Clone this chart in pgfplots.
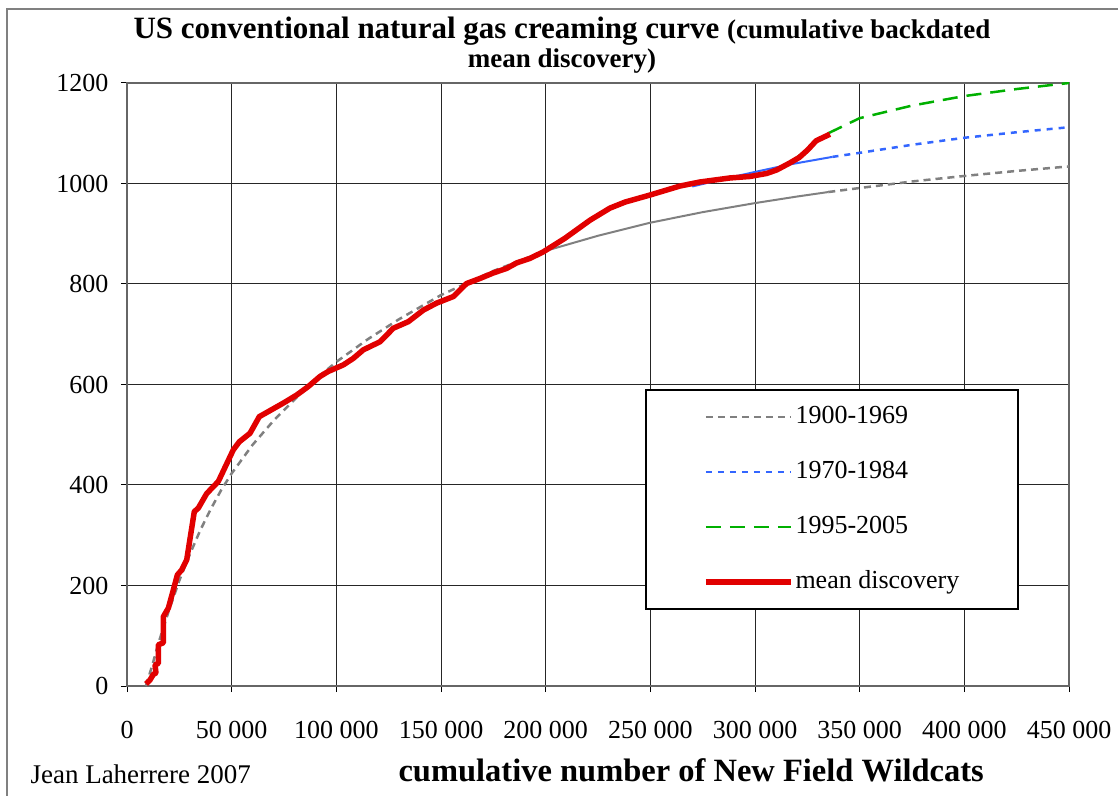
\documentclass[border=0pt]{standalone}
\usepackage{fontspec}
\setmainfont{Liberation Serif}
\usepackage{pgfplots}
\pgfplotsset{compat=1.18}
\definecolor{gcurve}{RGB}{128,128,128}
\definecolor{bcurve}{RGB}{51,102,255}
\definecolor{grcurve}{RGB}{0,176,0}
\definecolor{rcurve}{RGB}{225,0,0}
\begin{document}
\begin{tikzpicture}[x=1pt,y=1pt]
\useasboundingbox (0,0) rectangle (1118,795);
\draw[black!50, line width=2pt] (7,-10) -- (7,786) -- (1130,786);
\begin{axis}[
  at={(127pt,109pt)}, anchor=south west,
  width=942pt, height=603pt, scale only axis,
  xmin=0, xmax=450000, ymin=0, ymax=1200,
  xtick={0,50000,100000,150000,200000,250000,300000,350000,400000,450000},
  xticklabels={0,50 000,100 000,150 000,200 000,250 000,300 000,350 000,400 000,450 000},
  ytick={0,200,400,600,800,1000,1200},
  yticklabels={0,200,400,600,800,1000,1200},
  scaled x ticks=false,
  grid=major, major grid style={black!85, line width=1pt},
  axis line style={black!60, line width=1.5pt},
  tick align=outside, major tick length=6pt, tick style={black, line width=1pt},
  xtick pos=bottom, ytick pos=left,
  ticklabel style={font=\fontsize{26}{28}\selectfont},
  xticklabel style={yshift=-26pt},
  yticklabel style={xshift=-9pt},
  legend style={at={(0.5499,0.4925)}, anchor=north west, draw=black, line width=2pt, fill=white,
    inner xsep=57pt, inner ysep=13pt, row sep=27pt, column sep=0pt,
    font=\fontsize{26}{28}\selectfont,
    nodes={text height=18pt, text depth=6pt, inner sep=2pt}},
  legend cell align=left,
  legend image code/.code={\draw[#1] (0pt,0pt) -- (85pt,0pt);},
]
% 1900-1969 fit
\addplot[gcurve, line width=2.5pt, dash pattern=on 7pt off 5pt] coordinates {
(9000,0) (12000,40) (15000,85) (20000,150) (25000,210) (30000,262) (35000,310)
(40000,352) (45000,390) (50000,423) (60000,480) (70000,528) (80000,570) (90000,610)
(100000,645) (115000,690) (130000,730) (150000,778) (175000,826) (200000,866)};
\addlegendentry{1900-1969}
% 1970-1984 fit
\addplot[bcurve, line width=2.5pt, dash pattern=on 6pt off 6pt] coordinates {
(337000,1053) (350000,1061) (375000,1077) (400000,1091) (425000,1102) (450000,1112)};
\addlegendentry{1970-1984}
% 1995-2005 fit
\addplot[grcurve, line width=2.5pt, dash pattern=on 15pt off 9pt] coordinates {
(335000,1100) (350000,1130) (375000,1155) (400000,1174) (425000,1188) (450000,1200)};
\addlegendentry{1995-2005}
% solid parts of fits
\addplot[gcurve, line width=2pt, forget plot] coordinates {
(200000,866) (225000,896) (250000,922) (275000,943) (300000,961) (320000,974) (335000,983)};
\addplot[gcurve, line width=2.5pt, dash pattern=on 7pt off 5pt, forget plot] coordinates {
(335000,983) (350000,991) (375000,1004) (400000,1015) (425000,1025) (450000,1034)};
\addplot[bcurve, line width=2pt, forget plot] coordinates {
(270000,994) (285000,1009) (300000,1023) (316700,1038) (337000,1053)};
\addplot[grcurve, line width=2pt, forget plot] coordinates {
(318000,1046) (325000,1068) (330000,1085) (335000,1100)};
% mean discovery
\addplot[rcurve, line width=5.5pt, line join=round] coordinates {
(9077,4) (10990,12) (12560,23) (13850,26) (13380,42) (14970,45) (14970,82)
(17360,86) (17360,138) (19750,155) (22120,191) (24060,221) (26130,231) (28520,251)
(32150,347) (34060,354) (38070,383) (43620,407) (50780,470) (53650,486) (58760,503)
(63200,536) (68310,548) (74670,563) (81040,579) (86610,596) (92200,616) (96170,626)
(103330,639) (108110,652) (112900,669) (120860,685) (127230,712) (134390,725)
(141560,748) (147920,762) (155880,775) (162250,801) (168620,811) (174990,822)
(181360,831) (186140,842) (192520,851) (198880,864) (209200,891) (221200,927)
(230700,951) (237900,963) (249800,977) (264200,995) (273700,1003) (288000,1011)
(297600,1014) (305600,1020) (310400,1027) (316700,1041) (321200,1052) (325200,1067)
(329200,1085) (333200,1093) (335800,1098)};
\addlegendentry{mean discovery}
\end{axis}
\node[anchor=base, font=\bfseries\fontsize{31}{34}\selectfont] at (562,756)
  {US conventional natural gas creaming curve {\fontsize{27}{30}\selectfont(cumulative backdated}};
\node[anchor=base, font=\bfseries\fontsize{27}{30}\selectfont] at (562,727) {mean discovery)};
\node[anchor=base west, font=\fontsize{27}{30}\selectfont] at (27,12) {Jean Laherrere 2007};
\node[anchor=base west, font=\bfseries\fontsize{32.5}{35}\selectfont] at (395,14) {cumulative number of New Field Wildcats};
\end{tikzpicture}
\end{document}
